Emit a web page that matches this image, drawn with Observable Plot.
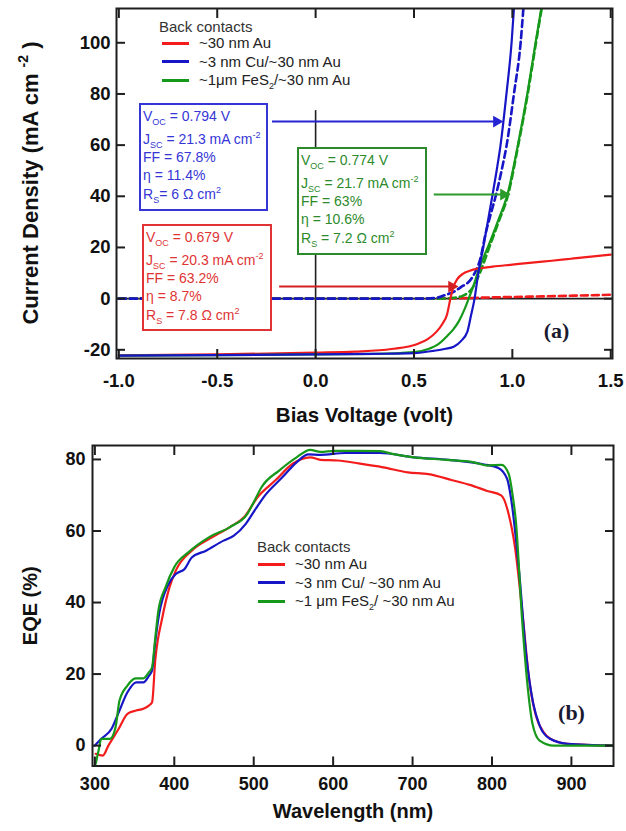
<!DOCTYPE html>
<html><head><meta charset="utf-8">
<script src="https://cdn.jsdelivr.net/npm/d3@7"></script>
<script src="https://cdn.jsdelivr.net/npm/@observablehq/plot@0.6"></script>
<style>
html,body{margin:0;padding:0;background:#fff;}
#wrap{position:relative;width:626px;height:831px;font-family:"Liberation Sans",Arial,sans-serif;overflow:hidden;}
#wrap svg{position:absolute;left:0;display:block;}
.ov{position:absolute;white-space:nowrap;}
.leg{font-size:15px;line-height:18px;color:#222;}
.sw{display:inline-block;width:27px;height:3px;vertical-align:middle;margin-right:10px;position:relative;top:-1px;}
.box{position:absolute;background:#fff;border:2px solid;box-sizing:border-box;font-size:14px;padding:0 0 0 2px;}
.box div{line-height:18px;height:18px;white-space:nowrap;}
.box sub,.box sup,.leg sub{font-size:9px;line-height:0;}
.ylab{position:absolute;white-space:nowrap;font-weight:bold;color:#111;line-height:1;transform:translate(-50%,-50%) rotate(-90deg);}
.ylab sup{font-size:14px;line-height:0;position:relative;top:-2px;}
</style></head><body><div id="wrap"></div>
<script>
// ---------- Panel (a): J–V curves (V in volt, J in mA cm^-2) ----------
const redLightV  = [-1.0, -0.5, 0.0, 0.2, 0.386, 0.518, 0.57, 0.615, 0.645, 0.668, 0.685, 0.70, 0.72, 0.75, 0.78, 0.83, 0.9, 1.0, 1.1, 1.2, 1.3, 1.4, 1.5];
const redLightJ  = [-22.2, -21.8, -21.1, -20.7, -19.7, -17.7, -15.8, -12.9, -9.8, -6.2, 0, 4.5, 7.6, 9.8, 10.8, 11.8, 12.5, 13.3, 14.1, 14.8, 15.6, 16.4, 17.2];
const blueLightV = [-1.0, -0.5, 0.0, 0.3, 0.5, 0.6, 0.66, 0.702, 0.74, 0.771, 0.79, 0.808, 0.825, 0.852, 0.875, 0.898, 0.92, 0.94, 0.97, 0.996, 1.008];
const blueLightJ = [-22.3, -22.1, -21.8, -21.6, -21.3, -20.4, -19.6, -18.8, -16.5, -13.0, -6.5, 0, 9, 20, 30, 40, 50, 60, 80, 100, 113.4];
const greenLightV = [-1.0, -0.5, 0.0, 0.3, 0.5, 0.58, 0.62, 0.67, 0.70, 0.727, 0.755, 0.778, 0.80, 0.83, 0.88, 0.93, 0.976, 1.028, 1.076, 1.118, 1.147];
const greenLightJ = [-22.3, -22.1, -21.8, -21.6, -20.9, -19.5, -18.0, -14.5, -12.0, -9.0, -4.5, 0, 4.5, 11.5, 21, 31, 41, 60, 80, 100, 113.4];
const redDarkV   = [-1.0, 0.7, 0.85, 1.1, 1.5];
const redDarkJ   = [0, 0.1, 0.4, 0.8, 1.5];
const blueDarkV  = [-1.0, 0.55, 0.62, 0.651, 0.70, 0.737, 0.796, 0.839, 0.864, 0.89, 0.915, 0.945, 0.971, 1.008, 1.042, 1.056];
const blueDarkJ  = [0, 0, 0.4, 1.2, 2.6, 4.4, 8.3, 16.1, 25.4, 33, 40, 50, 60, 80, 100, 113.4];
const greenDarkV = [-1.0, 0.62, 0.7, 0.75, 0.80, 0.84, 0.88, 0.93, 0.978, 1.03, 1.078, 1.12, 1.149];
const greenDarkJ = [0, 0, 0.3, 1.2, 4.5, 11, 19.5, 30, 40.5, 60, 80, 100, 113.4];

const xTicksA = [-1.0, -0.5, 0.0, 0.5, 1.0, 1.5];
const yTicksA = [-20, 0, 20, 40, 60, 80, 100];

// annotation arrows (data coordinates)
const arrowSeries = ["blue", "green", "red"];
const arrowY  = [69.2, 40.7, 4.7];
const arrowX1 = [-0.219, 0.603, -0.183];
const arrowX2 = [0.94, 0.976, 0.712];

// ---------- Panel (b): EQE (%) vs wavelength (nm) ----------
const redWl  = [301, 310, 317, 330, 341, 352, 361, 368, 372, 376, 385, 394, 402, 422, 444, 470, 488, 505, 527, 549, 571, 584, 606, 632, 663, 694, 720, 750, 772, 794, 812, 821, 829, 838, 847, 860, 878, 895, 953];
const redEqe = [-2.3, -2.8, 0, 4.7, 8.9, 9.8, 10.3, 11.2, 12.1, 23.8, 35.9, 44.3, 49, 54.5, 57.8, 61.1, 63.9, 69.5, 74.1, 78.8, 80.6, 79.9, 79.7, 78.9, 77.8, 76.4, 75.9, 74.2, 72.9, 71.2, 69.9, 64.7, 55.4, 37.8, 18.2, 5.6, 1.4, 0.5, 0];
const blueWl  = [300, 308, 321, 330, 341, 352, 361, 368, 372, 376, 381, 392, 402, 413, 422, 440, 462, 475, 490, 501, 514, 536, 554, 569, 584, 615, 659, 702, 746, 790, 808, 819, 825, 834, 843, 852, 860, 873, 895, 953];
const blueEqe = [0, 1.9, 4.7, 9.3, 14.9, 17.7, 17.7, 19.5, 21, 29, 36.9, 44.8, 48, 49.4, 52.6, 54.5, 57.3, 58.7, 62, 65.7, 69.9, 75, 79.2, 81.4, 81.3, 81.8, 81.8, 80.6, 79.9, 78.6, 77.6, 74.6, 67.6, 49, 25.6, 11.7, 5.6, 1.9, 0.5, 0];
const greenWl  = [301, 305, 308, 319, 326, 331, 341, 351, 361, 368, 372, 376, 380, 389, 400, 418, 444, 470, 492, 500, 510, 532, 554, 571, 584, 602, 630, 659, 676, 702, 742, 777, 794, 812, 821, 826, 830, 838, 845, 851, 860, 878, 900, 953];
const greenEqe = [-5.1, -1, 1.9, 1.9, 5.1, 12.6, 16.8, 18.8, 18.8, 20.5, 21.9, 30, 37.8, 44.3, 49.9, 54.1, 58.3, 61.1, 64.8, 68, 72.3, 76.9, 80.6, 82.7, 82.1, 82.4, 82.4, 82.3, 81.5, 80.6, 79.9, 79.2, 78.3, 78.5, 76, 70, 62.9, 35, 16.3, 6.1, 1.4, 0, 0, 0];

const xTicksB = [300, 400, 500, 600, 700, 800, 900];
const yTicksB = [0, 20, 40, 60, 80];

// ---------- styling ----------
const colors = {red: "#f21c1c", blue: "#1616c6", green: "#16991a"};
const arrowColors = {red: "#d42020", blue: "#2424d4", green: "#2a9a2a"};
const ink = "#1e1e1e";
const sans = '"Liberation Sans", Arial, sans-serif';

const pts = (xs, ys) => xs.map((x, i) => ({x, y: ys[i]}));

function axes(xTicks, yTicks, fmtX, fmtY, fs, padX, padY) {
  const common = {label: null, stroke: ink, strokeWidth: 2};
  return [
    Plot.axisX({ticks: xTicks, anchor: "bottom", tickSize: 0, tickPadding: padX, tickFormat: fmtX, fontSize: fs, fontWeight: "bold", fill: "#111", fontFamily: sans, label: null}),
    Plot.axisX({ticks: xTicks, anchor: "bottom", tickSize: -9, tickFormat: () => "", ...common}),
    Plot.axisX({ticks: xTicks, anchor: "top", tickSize: -9, tickFormat: () => "", ...common}),
    Plot.axisY({ticks: yTicks, anchor: "left", tickSize: 0, tickPadding: padY, tickFormat: fmtY, fontSize: fs, fontWeight: "bold", fill: "#111", fontFamily: sans, label: null}),
    Plot.axisY({ticks: yTicks, anchor: "left", tickSize: -9, tickFormat: () => "", ...common}),
    Plot.axisY({ticks: yTicks, anchor: "right", tickSize: -9, tickFormat: () => "", ...common})
  ];
}

// ---------- chart (a) ----------
const yDomA = [-23.4, 113.4];
const darkA = [
  {c: "red", d: pts(redDarkV, redDarkJ)},
  {c: "green", d: pts(greenDarkV, greenDarkJ)},
  {c: "blue", d: pts(blueDarkV, blueDarkJ)}
];
const lightA = [
  {c: "red", d: pts(redLightV, redLightJ)},
  {c: "green", d: pts(greenLightV, greenLightJ)},
  {c: "blue", d: pts(blueLightV, blueLightJ)}
];
const arrows = arrowSeries.map((c, i) => ({c, y: arrowY[i], x1: arrowX1[i], x2: arrowX2[i]}));

const chartA = Plot.plot({
  width: 626, height: 430,
  marginLeft: 116, marginRight: 14, marginTop: 8, marginBottom: 72,
  style: {fontFamily: sans, background: "transparent", overflow: "visible"},
  x: {domain: [-1.012, 1.509]},
  y: {domain: yDomA},
  marks: [
    Plot.ruleY([0], {stroke: ink, strokeWidth: 1.6}),
    Plot.ruleX([0], {y1: 73.5, y2: yDomA[0], stroke: ink, strokeWidth: 1.6}),
    ...darkA.map(s => Plot.line(s.d, {x: "x", y: "y", stroke: colors[s.c], strokeWidth: 2.6, strokeDasharray: "7,4", curve: "monotone-x", clip: true})),
    ...lightA.map(s => Plot.line(s.d, {x: "x", y: "y", stroke: colors[s.c], strokeWidth: 2.2, curve: "monotone-x", clip: true})),
    Plot.ruleY(arrows, {y: "y", x1: "x1", x2: "x2", stroke: d => arrowColors[d.c], strokeWidth: 2}),
    Plot.dot(arrows, {x: "x2", y: "y", symbol: "triangle", rotate: 90, r: 4.4, dx: -4, fill: d => arrowColors[d.c], stroke: "none"}),
    ...axes(xTicksA, yTicksA, d => d.toFixed(1), d => String(d), 18.5, 15.5, 6),
    Plot.frame({stroke: ink, strokeWidth: 2}),
    Plot.text(["Bias Voltage (volt)"], {text: d => d, frameAnchor: "bottom", dy: 57, fontSize: 20.5, fontWeight: "bold", fill: "#111", textAnchor: "middle", lineAnchor: "middle"}),
    Plot.text(["(a)"], {text: d => d, frameAnchor: "bottom-right", dx: -56, dy: -28, textAnchor: "middle", lineAnchor: "middle", fontFamily: '"Liberation Serif", "Times New Roman", serif', fontSize: 22, fontWeight: "bold", fill: "#1a1a30"})
  ]
});
chartA.style.top = "0px";
wrap.appendChild(chartA);

// ---------- chart (b) ----------
const eqe = [
  {c: "red", d: pts(redWl, redEqe)},
  {c: "blue", d: pts(blueWl, blueEqe)},
  {c: "green", d: pts(greenWl, greenEqe)}
];
const chartB = Plot.plot({
  width: 626, height: 401,
  marginLeft: 92, marginRight: 13, marginTop: 15, marginBottom: 65.5,
  style: {fontFamily: sans, background: "transparent", overflow: "visible"},
  x: {domain: [297, 953]},
  y: {domain: [-5.7, 83.9]},
  marks: [
    ...eqe.map(s => Plot.line(s.d, {x: "x", y: "y", stroke: colors[s.c], strokeWidth: 2.2, curve: "monotone-x", clip: true})),
    ...axes(xTicksB, yTicksB, d => String(d), d => String(d), 18, 11, 7),
    Plot.frame({stroke: ink, strokeWidth: 2}),
    Plot.text(["Wavelength (nm)"], {text: d => d, frameAnchor: "bottom", dy: 46, fontSize: 20, fontWeight: "bold", fill: "#111", textAnchor: "middle", lineAnchor: "middle"}),
    Plot.text(["EQE (%)"], {text: d => d, frameAnchor: "left", dx: -62, rotate: -90, fontSize: 20, fontWeight: "bold", fill: "#111", textAnchor: "middle", lineAnchor: "middle"}),
    Plot.text(["(b)"], {text: d => d, frameAnchor: "bottom-right", dx: -42, dy: -53, textAnchor: "middle", lineAnchor: "middle", fontFamily: '"Liberation Serif", "Times New Roman", serif', fontSize: 22, fontWeight: "bold", fill: "#1a1a30"})
  ]
});
chartB.style.top = "430px";
wrap.appendChild(chartB);

// ---------- HTML overlays: y label (a), legends, parameter boxes ----------
function addDiv(html, cls, left, top, style = "") {
  const d = document.createElement("div");
  d.className = cls; d.innerHTML = html;
  d.style.cssText += `left:${left}px;top:${top}px;${style}`;
  wrap.appendChild(d); return d;
}
addDiv("Current Density (mA cm <sup>-2</sup> )", "ylab", 31, 183, "font-size:22px");

const legendTitle = "Back contacts";
const legendA = [["red", "~30 nm Au"], ["blue", "~3 nm Cu/~30 nm Au"], ["green", "~1&mu;m FeS<sub>2</sub>/~30 nm Au"]];
const legendB = [["red", "~30 nm Au"], ["blue", "~3 nm Cu/ ~30 nm Au"], ["green", "~1 &mu;m FeS<sub>2</sub>/ ~30 nm Au"]];

addDiv(legendTitle, "ov leg", 159, 18, "color:#333");
legendA.forEach(([c, t], i) => addDiv(`<span class="sw" style="background:${colors[c]}"></span>${t}`, "ov leg", 162, 34.3 + i * 18.4));
addDiv(legendTitle, "ov leg", 257, 538, "color:#333");
legendB.forEach(([c, t], i) => addDiv(`<span class="sw" style="background:${colors[c]}"></span>${t}`, "ov leg", 258, 555 + i * 18.5));

const boxes = [
  {color: "#3636d6", left: 139, top: 103, w: 129, h: 108, lines: ["V<sub>OC</sub> = 0.794 V", "J<sub>SC</sub> = 21.3 mA cm<sup>-2</sup>", "FF = 67.8%", "&eta; = 11.4%", "R<sub>S</sub>= 6 &Omega; cm<sup>2</sup>"]},
  {color: "#2c8a2c", left: 297, top: 147, w: 130, h: 108, lines: ["V<sub>OC</sub> = 0.774 V", "J<sub>SC</sub> = 21.7 mA cm<sup>-2</sup>", "FF = 63%", "&eta; = 10.6%", "R<sub>S</sub> = 7.2 &Omega; cm<sup>2</sup>"]},
  {color: "#e03434", left: 142, top: 224, w: 130, h: 107, lines: ["V<sub>OC</sub> = 0.679 V", "J<sub>SC</sub> = 20.3 mA cm<sup>-2</sup>", "FF = 63.2%", "&eta; = 8.7%", "R<sub>S</sub> = 7.8 &Omega; cm<sup>2</sup>"]}
];
boxes.forEach(b => {
  const inner = b.lines.map((l, i) => `<div style="${i === 1 ? "margin-top:5px;" : ""}${i === 4 ? "margin-top:1px;" : ""}">${l}</div>`).join("");
  addDiv(inner, "box", b.left, b.top, `width:${b.w}px;height:${b.h}px;border-color:${b.color};color:${b.color};padding-top:2px;`);
});
</script></body></html>
